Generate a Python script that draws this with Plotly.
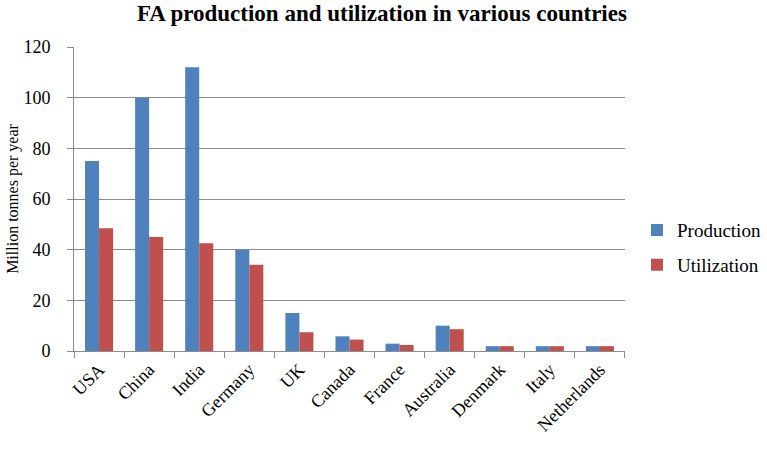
import plotly.graph_objects as go

countries = ["USA", "China", "India", "Germany", "UK", "Canada", "France",
             "Australia", "Denmark", "Italy", "Netherlands"]
production = [75, 100, 112, 40, 15, 5.8, 2.9, 10, 1.9, 1.9, 1.9]
utilization = [48.5, 45, 42.5, 34, 7.4, 4.5, 2.4, 8.6, 1.9, 1.9, 1.9]
y_ticks = [0, 20, 40, 60, 80, 100, 120]

serif = "Liberation Serif, DejaVu Serif, serif"
axis_gray = "#8c8c8c"

fig = go.Figure()
fig.add_trace(go.Bar(x=countries, y=production, name="Production",
                     legendgroup="p",
                     marker=dict(color="#4F81BD", line=dict(width=0))))
fig.add_trace(go.Bar(x=countries, y=utilization, name="Utilization",
                     legendgroup="u",
                     marker=dict(color="#C0504D", line=dict(width=0))))

fig.update_layout(
    width=767, height=452,
    margin=dict(l=73, r=142, t=47, b=101),
    paper_bgcolor="white", plot_bgcolor="white",
    barmode="group", bargap=0.44, bargroupgap=0,
    font=dict(family=serif, size=18, color="black"),
    title=dict(text="<b>FA production and utilization in various countries</b>",
               x=0.498, xanchor="center", y=0.972, yanchor="middle",
               font=dict(family=serif, size=23, color="black")),
    legend=dict(xref="container", yref="container", x=0.8305, y=0.452,
                xanchor="left", yanchor="middle",
                font=dict(family=serif, size=19), tracegroupgap=7,
                bgcolor="rgba(0,0,0,0)"),
    xaxis=dict(type="category", tickangle=-45, ticks="outside", ticklen=6,
               tickson="boundaries", tickcolor=axis_gray,
               showline=True, linecolor=axis_gray, linewidth=1,
               showgrid=False, tickfont=dict(family=serif, size=18)),
    yaxis=dict(range=[0, 120], tickvals=y_ticks, ticks="outside", ticklen=6,
               ticklabelstandoff=13,
               tickcolor=axis_gray, showline=True, linecolor=axis_gray,
               linewidth=1, showgrid=True, gridcolor=axis_gray, gridwidth=1,
               zeroline=False, tickfont=dict(family=serif, size=18),
               title=dict(text="Million tonnes per year",
                          font=dict(family=serif, size=16), standoff=0)),
)

fig.write_html("out.html", config={"displayModeBar": False},
               post_script="document.body.style.margin='0';")
